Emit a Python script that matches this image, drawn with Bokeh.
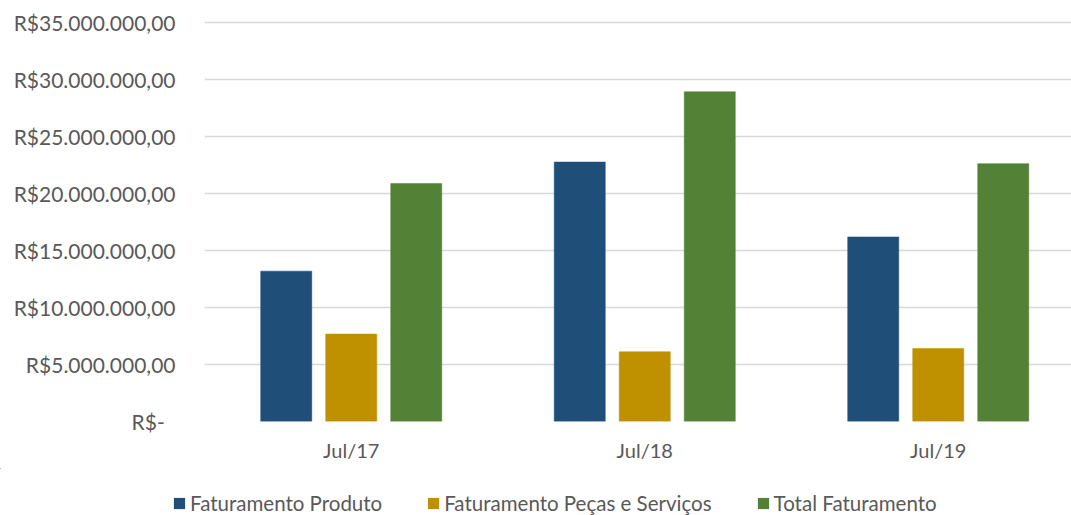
from bokeh.plotting import figure
from bokeh.layouts import column
from bokeh.models import ColumnDataSource, Range1d, FixedTicker, Legend, LegendItem
from bokeh.transform import dodge
from bokeh.embed import file_html
from bokeh.resources import INLINE

categories = ["Jul/17", "Jul/18", "Jul/19"]
faturamento_produto = [13190000, 22760000, 16190000]
faturamento_pecas_servicos = [7670000, 6120000, 6410000]
total_faturamento = [20870000, 28930000, 22620000]
series_names = ["Faturamento Produto", "Faturamento Peças e Serviços", "Total Faturamento"]
y_ticks = [0, 5000000, 10000000, 15000000, 20000000, 25000000, 30000000, 35000000]
y_tick_labels = ["R$-\u00a0\u00a0", "R$5.000.000,00", "R$10.000.000,00", "R$15.000.000,00",
                 "R$20.000.000,00", "R$25.000.000,00", "R$30.000.000,00", "R$35.000.000,00"]

colors = ["#1F4E79", "#BF9000", "#538135"]
FONT = "Lato"
TXT = "#595959"

xc = [i + 0.5 for i in range(len(categories))]
src = ColumnDataSource(dict(x=xc, cat=categories, a=faturamento_produto,
                            b=faturamento_pecas_servicos, c=total_faturamento))

p = figure(width=1071, height=468, output_backend="svg", toolbar_location=None,
           x_range=Range1d(0, 2.954), y_range=Range1d(0, 35175000),
           min_border_left=204, min_border_right=0, min_border_top=20, min_border_bottom=47)
p.outline_line_color = None
p.background_fill_color = "white"
p.border_fill_color = "white"

for col, off, color in zip(["a", "b", "c"], [-0.2215, 0.0, 0.2215], colors):
    p.vbar(x=dodge("x", off, range=p.x_range), top=col, width=0.174, source=src,
           fill_color=color, line_color=color, line_width=0.5)

p.xgrid.grid_line_color = None
p.ygrid.grid_line_color = "#D9D9D9"
p.ygrid.grid_line_width = 1.5

p.yaxis.ticker = FixedTicker(ticks=y_ticks)
p.yaxis.major_label_overrides = {t: l for t, l in zip(y_ticks, y_tick_labels)}
p.xaxis.ticker = FixedTicker(ticks=xc)
p.xaxis.major_label_overrides = {x: c for x, c in zip(xc, categories)}

for ax in (p.xaxis, p.yaxis):
    ax.axis_line_color = None
    ax.major_tick_line_color = None
    ax.minor_tick_line_color = None
    ax.major_tick_out = 0
    ax.major_tick_in = 0
    ax.major_label_text_font = FONT
    ax.major_label_text_color = TXT
p.yaxis.major_label_text_font_size = "21px"
p.xaxis.major_label_text_font_size = "20px"
p.yaxis.major_label_standoff = 29
p.xaxis.major_label_standoff = 16

# legend strip below the chart; swatch renderers carry the series colours but draw
# zero-height marks outside their own view, so only the legend swatches appear
lp = figure(width=1071, height=47, output_backend="svg", toolbar_location=None,
            x_range=Range1d(100, 101), y_range=Range1d(0, 1),
            x_axis_location=None, y_axis_location=None, min_border=0)
lp.outline_line_color = None
lp.xgrid.visible = False
lp.ygrid.visible = False
for fig in (p, lp):
    if "frame_align" in fig.properties():
        fig.frame_align = False
swatches = []
for col, color in zip(["a", "b", "c"], colors):
    swatches.append(lp.vbar(x="x", top=col, bottom=col, width=0.174, source=src,
                            fill_color=color, line_color=None))

legend = Legend(items=[LegendItem(label=n, renderers=[r]) for n, r in zip(series_names, swatches)],
                orientation="horizontal", location=(172, 0))
legend.label_text_font = FONT
legend.label_text_font_size = "20.5px"
legend.label_text_color = TXT
legend.glyph_width = 14
legend.glyph_height = 14
legend.label_standoff = 4
legend.spacing = 44
legend.padding = 0
legend.margin = 0
legend.border_line_color = None
legend.background_fill_alpha = 0
lp.add_layout(legend, "center")

open("out.html", "w").write(file_html(column(p, lp, spacing=0), INLINE))
